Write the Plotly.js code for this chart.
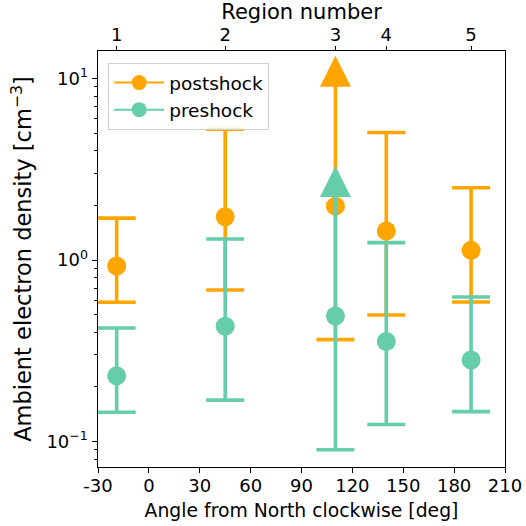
<!DOCTYPE html>
<html>
<head>
<meta charset="utf-8">
<script src="https://cdn.plot.ly/plotly-3.0.1.min.js"></script>
<style>
  html, body { margin: 0; padding: 0; background: #fff; }
  #chart { width: 526px; height: 526px; }
</style>
</head>
<body>
<div id="chart"></div>
<script>
// ---- data ----
const regionAngle = [-19, 45, 110, 140, 190];
const regionLabels = ['1', '2', '3', '4', '5'];
const isUpperLimit = [false, false, true, false, false];

const postY  = [0.927, 1.73, 1.98, 1.445, 1.13];
const postHi = [1.70, 5.25, 10.96, 5.04, 2.50];
const postLo = [0.585, 0.683, 0.364, 0.498, 0.587];

const preY  = [0.230, 0.431, 0.491, 0.356, 0.281];
const preHi = [0.422, 1.305, 2.71, 1.246, 0.625];
const preLo = [0.145, 0.169, 0.090, 0.124, 0.146];

const angleTicks = [-30, 0, 30, 60, 90, 120, 150, 180, 210];
const seriesNames = ['postshock', 'preshock'];
const seriesColors = ['#FFA500', '#66CDAA'];

// ---- styling ----
const FONT = 'DejaVu Sans, sans-serif';
const MS = 19, CAPW = 19, THICK = 3.6, TRI = 31;

function seriesTraces(y, hi, lo, color, name) {
  const traces = [];
  const idxN = [], idxL = [];
  y.forEach((v, i) => (isUpperLimit[i] ? idxL : idxN).push(i));
  // regular points with capped error bars
  traces.push({
    type: 'scatter', mode: 'markers', showlegend: false, hoverinfo: 'skip',
    x: idxN.map(i => regionAngle[i]), y: idxN.map(i => y[i]),
    marker: { color: color, size: MS },
    error_y: { type: 'data', symmetric: false,
      array: idxN.map(i => hi[i] - y[i]), arrayminus: idxN.map(i => y[i] - lo[i]),
      color: color, thickness: THICK, width: CAPW }
  });
  // limit points: bar without caps
  traces.push({
    type: 'scatter', mode: 'markers', showlegend: false, hoverinfo: 'skip',
    x: idxL.map(i => regionAngle[i]), y: idxL.map(i => y[i]),
    marker: { color: color, size: MS },
    error_y: { type: 'data', symmetric: false,
      array: idxL.map(i => hi[i] - y[i]), arrayminus: idxL.map(i => y[i] - lo[i]),
      color: color, thickness: THICK, width: 0 }
  });
  // lower cap for limit points
  traces.push({
    type: 'scatter', mode: 'markers', showlegend: false, hoverinfo: 'skip',
    x: idxL.map(i => regionAngle[i]), y: idxL.map(i => lo[i]),
    marker: { color: 'rgba(0,0,0,0)', size: 1 },
    error_y: { type: 'data', symmetric: false,
      array: idxL.map(() => 0), arrayminus: idxL.map(() => 0),
      color: color, thickness: THICK, width: CAPW }
  });
  // upper-limit arrow heads
  traces.push({
    type: 'scatter', mode: 'markers', showlegend: false, hoverinfo: 'skip',
    x: idxL.map(i => regionAngle[i]), y: idxL.map(i => hi[i]),
    marker: { color: color, size: TRI, symbol: 'arrow-down', angle: 180, standoff: TRI / 2 }
  });
  // legend entry
  traces.push({
    type: 'scatter', mode: 'lines+markers', name: name,
    x: [null], y: [null],
    line: { color: color, width: 2 },
    marker: { color: color, size: 15 }
  });
  return traces;
}

const data = [
  ...seriesTraces(postY, postHi, postLo, seriesColors[0], seriesNames[0]),
  ...seriesTraces(preY, preHi, preLo, seriesColors[1], seriesNames[1])
];
// dummy trace to activate top axis
data.push({ type: 'scatter', mode: 'markers', x: [null], y: [null], xaxis: 'x2', showlegend: false, hoverinfo: 'skip' });

const minorVals = [];
for (let e = -2; e <= 1; e++) for (let m = 2; m <= 9; m++) minorVals.push(m * Math.pow(10, e));

const layout = {
  width: 526, height: 526,
  margin: { l: 98, r: 21, t: 51, b: 59 },
  paper_bgcolor: '#fff', plot_bgcolor: '#fff',
  font: { family: FONT, color: '#000', size: 18 },
  showlegend: true,
  legend: {
    x: 0.025, y: 0.971, xanchor: 'left', yanchor: 'top',
    bgcolor: 'rgba(255,255,255,0.8)', bordercolor: '#d0d0d0', borderwidth: 1,
    font: { family: FONT, size: 18.5 }, itemwidth: 50, traceorder: 'normal',
    tracegroupgap: 0
  },
  xaxis: {
    range: [-30, 210], tickmode: 'array',
    tickvals: angleTicks, ticktext: angleTicks.map(v => String(v)),
    ticks: 'outside', ticklen: 5, tickwidth: 1, tickcolor: '#000',
    ticklabelstandoff: -3,
    showline: true, linecolor: '#000', linewidth: 1, mirror: false,
    showgrid: false, zeroline: false,
    tickfont: { family: FONT, size: 18 },
    title: { text: 'Angle from North clockwise [deg]', font: { family: FONT, size: 18.8 }, standoff: 9 }
  },
  xaxis2: {
    overlaying: 'x', side: 'top', range: [-30, 210], tickmode: 'array',
    tickvals: regionAngle, ticktext: regionLabels,
    ticks: 'outside', ticklen: 4.5, tickwidth: 1, tickcolor: '#000',
    ticklabelstandoff: -3,
    showline: true, linecolor: '#000', linewidth: 1,
    showgrid: false, zeroline: false,
    tickfont: { family: FONT, size: 18 },
    title: { text: 'Region number', font: { family: FONT, size: 21 }, standoff: 2 }
  },
  yaxis: {
    type: 'log', range: [-1.1405, 1.1515], tickmode: 'array',
    tickvals: [0.1, 1, 10],
    ticktext: ['10<sup>−1</sup>', '10<sup>0</sup>', '10<sup>1</sup>'],
    ticks: 'outside', ticklen: 5.5, tickwidth: 1, tickcolor: '#000',
    minor: { tickmode: 'array', tickvals: minorVals, ticks: 'outside', ticklen: 3.5, tickwidth: 1, tickcolor: '#000', showgrid: false },
    showline: true, linecolor: '#000', linewidth: 1, mirror: true,
    showgrid: false, zeroline: false,
    tickfont: { family: FONT, size: 18 },
    title: { text: 'Ambient electron density [cm<sup>−3</sup>]', font: { family: FONT, size: 22.5 }, standoff: 8 }
  }
};

Plotly.newPlot('chart', data, layout, { staticPlot: true, displayModeBar: false });
</script>
</body>
</html>
